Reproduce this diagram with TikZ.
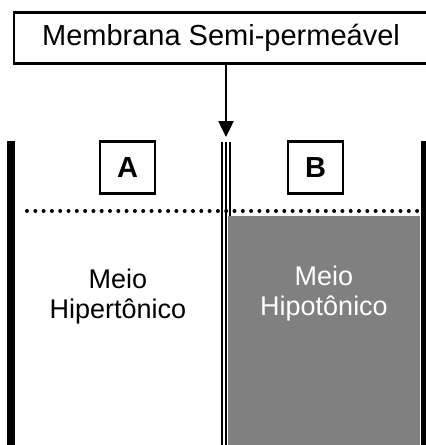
\documentclass[tikz,border=0pt]{standalone}
\usepackage{fontspec}
\setmainfont{Liberation Sans}
\usetikzlibrary{arrows.meta}
\begin{document}
\begin{tikzpicture}[x=1pt, y=-1pt,
  caixa/.style={draw, line width=2.5pt, minimum width=55pt, minimum height=52pt, inner sep=0pt,
    font=\fontsize{29}{30}\selectfont\bfseries},
  rotulo/.style={align=center, font=\fontsize{27}{30}\selectfont},
  parede/.style={line width=8pt},
  membrana/.style={line width=2pt}]
\useasboundingbox (0,0) rectangle (426,445);
\clip (0,0) rectangle (426,445);
% membrana semi-permeavel
\foreach \x in {222,226,230}
  \draw[membrana] (\x,142) -- (\x,445);
% meio hipotonico
\fill[gray] (227.5,216) rectangle (420,445);
% paredes do recipiente
\draw[parede] (10.5,141) -- (10.5,445);
\draw[parede] (424.5,141) -- (424.5,445);
% nivel inicial
\draw[line width=4pt, line cap=round, dash pattern=on 0pt off 8.3pt] (27,211) -- (420,211);
\node[caixa] (ladoA) at (127.5,167.5) {A};
\node[caixa] (ladoB) at (315.5,167.5) {B};
\node[rotulo] (hiper) at (118,297) {Meio\\Hipertônico};
\node[rotulo, text=white] (hipo) at (324,294) {Meio\\Hipotônico};
\node[draw, line width=2.5pt, minimum width=414pt, minimum height=51pt, inner sep=0pt,
  font=\fontsize{29}{30}\selectfont] (titulo) at (221,38) {Membrana Semi-permeável};
\coordinate (seta) at (226,137);
\draw[line width=2.5pt, -{Triangle[width=15pt,length=16pt]}] (titulo.south -| seta) -- (seta);
\end{tikzpicture}
\end{document}
